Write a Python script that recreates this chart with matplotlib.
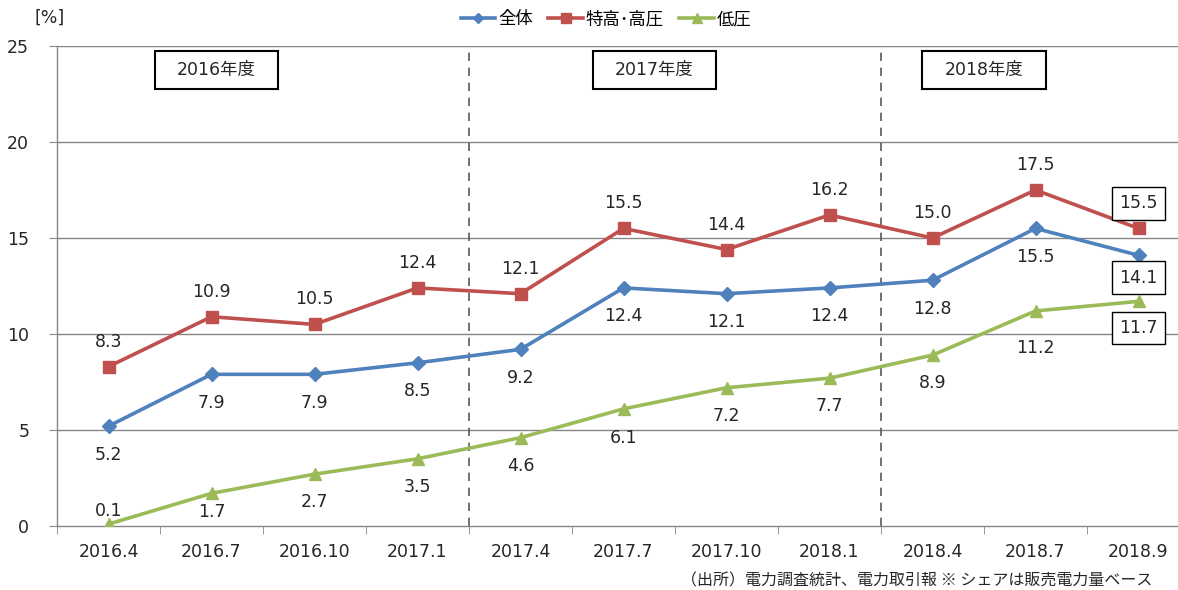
import matplotlib
matplotlib.use("Agg")
import matplotlib.pyplot as plt
from matplotlib.patches import Rectangle

plt.rcParams['font.family'] = ['DejaVu Sans', 'Noto Sans CJK JP']

categories = ["2016.4", "2016.7", "2016.10", "2017.1", "2017.4", "2017.7",
              "2017.10", "2018.1", "2018.4", "2018.7", "2018.9"]
total = [5.2, 7.9, 7.9, 8.5, 9.2, 12.4, 12.1, 12.4, 12.8, 15.5, 14.1]
high = [8.3, 10.9, 10.5, 12.4, 12.1, 15.5, 14.4, 16.2, 15.0, 17.5, 15.5]
low = [0.1, 1.7, 2.7, 3.5, 4.6, 6.1, 7.2, 7.7, 8.9, 11.2, 11.7]
series_names = ["全体", "特高･高圧", "低圧"]
fiscal_years = ["2016年度", "2017年度", "2018年度"]
fy_positions = [1.05, 5.3, 8.5]
yticks = [0, 5, 10, 15, 20, 25]

# label vertical offsets (points) -- styling only
off_high = [18] * 11
off_total = [-20.5] * 10 + [-16]
off_low = [9.6, -13.7, -20.3, -20, -20.5, -20.8, -20.3, -20.4, -20.3, -26.4, -19.2]

c_blue = "#4F81BD"
c_red = "#C0504D"
c_green = "#9BBB59"
grid_c = "#868686"
txt_c = "#262626"
FS = 12.5

fig = plt.figure(figsize=(11.78, 5.9), dpi=100)
ax = fig.add_axes([57/1178, (590-526)/590, (1190-57)/1178, (526-46)/590])
ax.set_xlim(-0.5, 10.5)
ax.set_ylim(0, 25)

x = list(range(len(categories)))
ax.plot(x, total, color=c_blue, lw=2.6, marker="D", ms=7, label=series_names[0], zorder=5)
ax.plot(x, high, color=c_red, lw=2.6, marker="s", ms=8.5, label=series_names[1], zorder=5)
ax.plot(x, low, color=c_green, lw=2.6, marker="^", ms=9, label=series_names[2], zorder=5)

for yv in yticks[1:]:
    ax.axhline(yv, color=grid_c, lw=1.0, zorder=1)
for sp in ["top", "right"]:
    ax.spines[sp].set_visible(False)
for sp in ["left", "bottom"]:
    ax.spines[sp].set_color(grid_c)
    ax.spines[sp].set_linewidth(1.0)

ax.set_yticks(yticks)
ax.set_yticklabels([str(v) for v in yticks], fontsize=FS, color=txt_c)
ax.tick_params(axis="y", direction="out", length=6, color=grid_c, pad=14)
ax.set_xticks(x)
ax.set_xticklabels(categories, fontsize=FS, color=txt_c)
ax.tick_params(axis="x", which="major", length=0, pad=12)
ax.set_xticks([i - 0.5 for i in range(len(categories) + 1)], minor=True)
ax.tick_params(axis="x", which="minor", direction="out", length=6, color=grid_c)

for xv in [3.5, 7.5]:
    ax.axvline(xv, color="#595959", lw=1.2, ls=(0, (5, 4)), zorder=2)

for name, xc in zip(fiscal_years, fy_positions):
    ax.add_patch(Rectangle((xc - 0.6, 22.75), 1.2, 2.0, fill=True, facecolor="white",
                           edgecolor="black", lw=1.5, zorder=3))
    ax.text(xc, 23.75, name, ha="center", va="center", fontsize=FS, color=txt_c, zorder=4)

last = len(categories) - 1
boxkw = dict(boxstyle="square,pad=0.42", facecolor="white", edgecolor="black", lw=1.0)
for i in x:
    b = boxkw if i == last else None
    ax.annotate(f"{high[i]:.1f}", (i, high[i]), xytext=(0, off_high[i]), textcoords="offset points",
                ha="center", va="center", fontsize=FS, color=txt_c, bbox=b, zorder=6)
    ax.annotate(f"{total[i]:.1f}", (i, total[i]), xytext=(0, off_total[i]), textcoords="offset points",
                ha="center", va="center", fontsize=FS, color=txt_c, bbox=b, zorder=6)
    ax.annotate(f"{low[i]:.1f}", (i, low[i]), xytext=(0, off_low[i]), textcoords="offset points",
                ha="center", va="center", fontsize=FS, color=txt_c, bbox=b, zorder=6)

fig.text(35/1178, 1 - 18/590, "[%]", fontsize=FS, color=txt_c, ha="left", va="center")
fig.legend(loc="center", bbox_to_anchor=(606/1178, 1 - 19/590), ncol=3, frameon=False,
           handlelength=2.0, handletextpad=0.15, columnspacing=0.9, markerscale=0.8,
           prop={'family': ['Noto Sans CJK JP'], 'size': FS})
fig.text(1152/1178, 1 - 581/590, "（出所）電力調査統計、電力取引報 ※ シェアは販売電力量ベース",
         fontsize=11.5, color=txt_c, ha="right", va="center",
         family=['Noto Sans CJK JP', 'DejaVu Sans'])

fig.savefig("out.png", dpi=100)
